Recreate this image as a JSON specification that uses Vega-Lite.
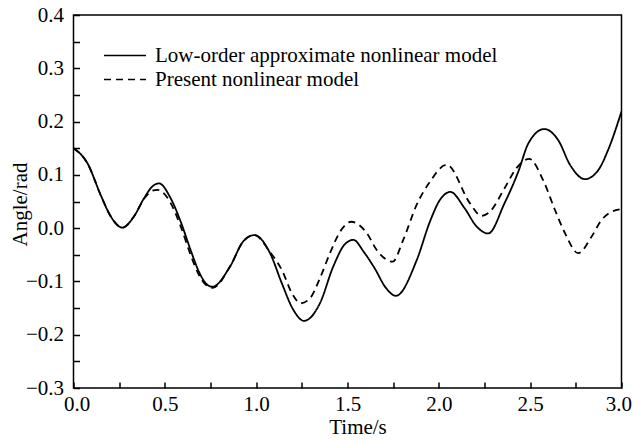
{
  "$schema": "https://vega.github.io/schema/vega-lite/v6.json",
  "width": 548,
  "height": 373,
  "autosize": {"type": "none"},
  "padding": {"left": 73.5, "top": 15, "right": 11.5, "bottom": 52},
  "background": "white",
  "config": {
    "view": {"stroke": "#000", "strokeWidth": 1.5},
    "font": "Liberation Serif",
    "axis": {
      "grid": false,
      "domain": false,
      "labelFont": "Liberation Serif",
      "labelFontSize": 21,
      "labelColor": "#000",
      "titleFont": "Liberation Serif",
      "titleFontSize": 21,
      "titleFontWeight": "normal",
      "titleColor": "#000"
    },
    "legend": {
      "labelFont": "Liberation Serif",
      "labelFontSize": 21,
      "labelColor": "#000",
      "labelLimit": 0
    }
  },
  "data": {
    "values": [
      {"t": 0.0, "y": 0.150, "model": "Low-order approximate nonlinear model"},
      {"t": 0.076, "y": 0.122, "model": "Low-order approximate nonlinear model"},
      {"t": 0.149, "y": 0.062, "model": "Low-order approximate nonlinear model"},
      {"t": 0.204, "y": 0.022, "model": "Low-order approximate nonlinear model"},
      {"t": 0.267, "y": 0.001, "model": "Low-order approximate nonlinear model"},
      {"t": 0.331, "y": 0.022, "model": "Low-order approximate nonlinear model"},
      {"t": 0.386, "y": 0.056, "model": "Low-order approximate nonlinear model"},
      {"t": 0.431, "y": 0.078, "model": "Low-order approximate nonlinear model"},
      {"t": 0.468, "y": 0.084, "model": "Low-order approximate nonlinear model"},
      {"t": 0.532, "y": 0.056, "model": "Low-order approximate nonlinear model"},
      {"t": 0.587, "y": 0.012, "model": "Low-order approximate nonlinear model"},
      {"t": 0.641, "y": -0.041, "model": "Low-order approximate nonlinear model"},
      {"t": 0.687, "y": -0.082, "model": "Low-order approximate nonlinear model"},
      {"t": 0.723, "y": -0.103, "model": "Low-order approximate nonlinear model"},
      {"t": 0.760, "y": -0.110, "model": "Low-order approximate nonlinear model"},
      {"t": 0.857, "y": -0.072, "model": "Low-order approximate nonlinear model"},
      {"t": 0.929, "y": -0.025, "model": "Low-order approximate nonlinear model"},
      {"t": 0.990, "y": -0.013, "model": "Low-order approximate nonlinear model"},
      {"t": 1.076, "y": -0.047, "model": "Low-order approximate nonlinear model"},
      {"t": 1.140, "y": -0.103, "model": "Low-order approximate nonlinear model"},
      {"t": 1.203, "y": -0.153, "model": "Low-order approximate nonlinear model"},
      {"t": 1.262, "y": -0.174, "model": "Low-order approximate nonlinear model"},
      {"t": 1.349, "y": -0.141, "model": "Low-order approximate nonlinear model"},
      {"t": 1.422, "y": -0.072, "model": "Low-order approximate nonlinear model"},
      {"t": 1.486, "y": -0.030, "model": "Low-order approximate nonlinear model"},
      {"t": 1.532, "y": -0.022, "model": "Low-order approximate nonlinear model"},
      {"t": 1.590, "y": -0.045, "model": "Low-order approximate nonlinear model"},
      {"t": 1.648, "y": -0.075, "model": "Low-order approximate nonlinear model"},
      {"t": 1.710, "y": -0.112, "model": "Low-order approximate nonlinear model"},
      {"t": 1.765, "y": -0.127, "model": "Low-order approximate nonlinear model"},
      {"t": 1.879, "y": -0.060, "model": "Low-order approximate nonlinear model"},
      {"t": 1.951, "y": 0.012, "model": "Low-order approximate nonlinear model"},
      {"t": 2.006, "y": 0.053, "model": "Low-order approximate nonlinear model"},
      {"t": 2.063, "y": 0.068, "model": "Low-order approximate nonlinear model"},
      {"t": 2.140, "y": 0.038, "model": "Low-order approximate nonlinear model"},
      {"t": 2.207, "y": 0.003, "model": "Low-order approximate nonlinear model"},
      {"t": 2.270, "y": -0.010, "model": "Low-order approximate nonlinear model"},
      {"t": 2.360, "y": 0.047, "model": "Low-order approximate nonlinear model"},
      {"t": 2.435, "y": 0.106, "model": "Low-order approximate nonlinear model"},
      {"t": 2.490, "y": 0.159, "model": "Low-order approximate nonlinear model"},
      {"t": 2.577, "y": 0.186, "model": "Low-order approximate nonlinear model"},
      {"t": 2.654, "y": 0.165, "model": "Low-order approximate nonlinear model"},
      {"t": 2.718, "y": 0.119, "model": "Low-order approximate nonlinear model"},
      {"t": 2.800, "y": 0.092, "model": "Low-order approximate nonlinear model"},
      {"t": 2.873, "y": 0.109, "model": "Low-order approximate nonlinear model"},
      {"t": 2.927, "y": 0.147, "model": "Low-order approximate nonlinear model"},
      {"t": 3.000, "y": 0.219, "model": "Low-order approximate nonlinear model"},
      {"t": 0.0, "y": 0.150, "model": "Present nonlinear model"},
      {"t": 0.076, "y": 0.122, "model": "Present nonlinear model"},
      {"t": 0.149, "y": 0.062, "model": "Present nonlinear model"},
      {"t": 0.204, "y": 0.022, "model": "Present nonlinear model"},
      {"t": 0.267, "y": 0.001, "model": "Present nonlinear model"},
      {"t": 0.331, "y": 0.022, "model": "Present nonlinear model"},
      {"t": 0.386, "y": 0.055, "model": "Present nonlinear model"},
      {"t": 0.430, "y": 0.070, "model": "Present nonlinear model"},
      {"t": 0.460, "y": 0.072, "model": "Present nonlinear model"},
      {"t": 0.532, "y": 0.047, "model": "Present nonlinear model"},
      {"t": 0.587, "y": 0.003, "model": "Present nonlinear model"},
      {"t": 0.641, "y": -0.050, "model": "Present nonlinear model"},
      {"t": 0.687, "y": -0.088, "model": "Present nonlinear model"},
      {"t": 0.723, "y": -0.106, "model": "Present nonlinear model"},
      {"t": 0.762, "y": -0.112, "model": "Present nonlinear model"},
      {"t": 0.857, "y": -0.072, "model": "Present nonlinear model"},
      {"t": 0.929, "y": -0.025, "model": "Present nonlinear model"},
      {"t": 0.990, "y": -0.013, "model": "Present nonlinear model"},
      {"t": 1.076, "y": -0.045, "model": "Present nonlinear model"},
      {"t": 1.140, "y": -0.078, "model": "Present nonlinear model"},
      {"t": 1.200, "y": -0.125, "model": "Present nonlinear model"},
      {"t": 1.243, "y": -0.141, "model": "Present nonlinear model"},
      {"t": 1.294, "y": -0.132, "model": "Present nonlinear model"},
      {"t": 1.349, "y": -0.094, "model": "Present nonlinear model"},
      {"t": 1.404, "y": -0.047, "model": "Present nonlinear model"},
      {"t": 1.459, "y": -0.007, "model": "Present nonlinear model"},
      {"t": 1.520, "y": 0.012, "model": "Present nonlinear model"},
      {"t": 1.605, "y": -0.009, "model": "Present nonlinear model"},
      {"t": 1.660, "y": -0.041, "model": "Present nonlinear model"},
      {"t": 1.747, "y": -0.063, "model": "Present nonlinear model"},
      {"t": 1.805, "y": -0.022, "model": "Present nonlinear model"},
      {"t": 1.879, "y": 0.044, "model": "Present nonlinear model"},
      {"t": 1.951, "y": 0.087, "model": "Present nonlinear model"},
      {"t": 2.043, "y": 0.119, "model": "Present nonlinear model"},
      {"t": 2.170, "y": 0.047, "model": "Present nonlinear model"},
      {"t": 2.233, "y": 0.023, "model": "Present nonlinear model"},
      {"t": 2.280, "y": 0.031, "model": "Present nonlinear model"},
      {"t": 2.360, "y": 0.075, "model": "Present nonlinear model"},
      {"t": 2.426, "y": 0.113, "model": "Present nonlinear model"},
      {"t": 2.495, "y": 0.130, "model": "Present nonlinear model"},
      {"t": 2.571, "y": 0.090, "model": "Present nonlinear model"},
      {"t": 2.636, "y": 0.034, "model": "Present nonlinear model"},
      {"t": 2.690, "y": -0.009, "model": "Present nonlinear model"},
      {"t": 2.763, "y": -0.047, "model": "Present nonlinear model"},
      {"t": 2.836, "y": -0.016, "model": "Present nonlinear model"},
      {"t": 2.890, "y": 0.015, "model": "Present nonlinear model"},
      {"t": 2.936, "y": 0.029, "model": "Present nonlinear model"},
      {"t": 3.000, "y": 0.036, "model": "Present nonlinear model"}
    ]
  },
  "mark": {"type": "line", "interpolate": "monotone", "strokeWidth": 1.8, "color": "#000", "clip": true},
  "encoding": {
    "x": {
      "field": "t", "type": "quantitative",
      "scale": {"domain": [0, 3], "nice": false, "zero": false},
      "axis": {
        "orient": "bottom",
        "values": [0, 0.25, 0.5, 0.75, 1, 1.25, 1.5, 1.75, 2, 2.25, 2.5, 2.75, 3],
        "ticks": true, "tickSize": -6, "tickWidth": 1.5, "tickColor": "#000",
        "labelExpr": "abs(datum.value*2 - round(datum.value*2)) < 0.001 ? format(datum.value, '.1f') : ''",
        "labelPadding": 11,
        "labelFlush": true,
        "labelFlushOffset": 10,
        "title": "Time/s",
        "titleX": 284,
        "titleY": 45,
        "titleBaseline": "alphabetic"
      }
    },
    "y": {
      "field": "y", "type": "quantitative",
      "scale": {"domain": [-0.3, 0.4], "nice": false, "zero": false},
      "axis": {
        "orient": "left",
        "values": [-0.3, -0.25, -0.2, -0.15, -0.1, -0.05, 0, 0.05, 0.1, 0.15, 0.2, 0.25, 0.3, 0.35, 0.4],
        "ticks": true, "tickSize": -6, "tickWidth": 1.5, "tickColor": "#000",
        "labelExpr": "abs(datum.value*10 - round(datum.value*10)) < 0.001 ? format(datum.value, '.1f') : ''",
        "labelPadding": 16,
        "labelFlush": false,
        "title": "Angle/rad",
        "titleX": -47.5,
        "titleY": 189,
        "titleAngle": -90,
        "titleAlign": "center",
        "titleBaseline": "alphabetic"
      }
    },
    "strokeDash": {
      "field": "model", "type": "nominal",
      "scale": {"domain": ["Low-order approximate nonlinear model", "Present nonlinear model"], "range": [[1, 0], [7, 5]]},
      "legend": {
        "orient": "none",
        "legendX": 40,
        "legendY": 29,
        "title": null,
        "symbolType": "M-2,0H2",
        "symbolSize": 441,
        "symbolStrokeWidth": 1.5,
        "symbolStrokeColor": "#000",
        "symbolFillColor": "transparent",
        "labelOffset": 18.5,
        "rowPadding": 2,
        "padding": 0
      }
    }
  }
}
